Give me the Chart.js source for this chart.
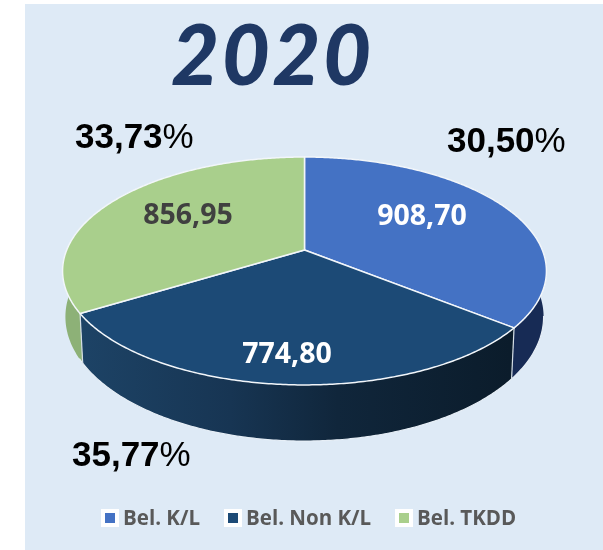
<!DOCTYPE html>
<html>
<head>
<meta charset="utf-8">
<style>
  html, body { margin: 0; padding: 0; background: #fff; }
  #panel { position: absolute; left: 25px; top: 4px; width: 578px; height: 546px; background: #DEEAF6; }
  #chart { position: absolute; left: 0; top: 0; }
</style>
<script src="https://cdn.jsdelivr.net/npm/chart.js@4"></script>
</head>
<body>
<div id="panel"></div>
<canvas id="chart" width="603" height="550"></canvas>
<script>
const titleText = '2020';
const categories = ['Bel. K/L', 'Bel. Non K/L', 'Bel. TKDD'];
const values = [908.70, 774.80, 856.95];
const valueLabels = ['908,70', '774,80', '856,95'];
const percentLabels = ['30,50', '35,77', '33,73'];
const topColors = ['#4472C4', '#1C4A76', '#A9CF8C'];
const labelColors = ['#FFFFFF', '#FFFFFF', '#404040'];

// the pie is seen in perspective, so the circle centre sits above the ellipse centre
const view = { cx: 304.5, cy: 250, a: 237.8, b: 110.1, k: 0.184 };
const floorView = { cx: 304.5, cy: 294, a: 235, b: 120, k: 0.184 };

function project(v, theta) {
  const u = Math.sin(theta), w = -Math.cos(theta), d = 1 - v.k * w;
  return [v.cx + v.a * u / d, v.cy + v.b * w / d];
}

function trace(ctx, v, from, to, first) {
  const steps = Math.max(2, Math.ceil(Math.abs(to - from) / 0.01));
  for (let i = 0; i <= steps; i++) {
    const p = project(v, from + (to - from) * i / steps);
    if (i === 0 && first) ctx.moveTo(p[0], p[1]); else ctx.lineTo(p[0], p[1]);
  }
}

function wallPaint(ctx, index) {
  if (index === 0) return '#172B55';
  if (index === 2) return '#8DB177';
  const g = ctx.createLinearGradient(80, 0, 510, 0);
  g.addColorStop(0, '#1D4366');
  g.addColorStop(0.35, '#173553');
  g.addColorStop(0.6, '#10263B');
  g.addColorStop(1, '#0B1C2B');
  return g;
}

const perspectivePie = {
  id: 'perspectivePie',
  beforeDatasetsDraw(chart) {
    const ctx = chart.ctx;
    const arcs = chart.getDatasetMeta(0).data;
    const angles = arcs.map(arc => [arc.startAngle + Math.PI / 2, arc.endAngle + Math.PI / 2]);

    ctx.save();
    ctx.lineJoin = 'round';

    // side walls
    angles.forEach((t, i) => {
      ctx.beginPath();
      trace(ctx, view, t[0], t[1], true);
      trace(ctx, floorView, t[1], t[0], false);
      ctx.closePath();
      ctx.fillStyle = wallPaint(ctx, i);
      ctx.fill();
    });

    // wall edges
    ctx.strokeStyle = '#E6EEF6';
    ctx.lineWidth = 1.2;
    ctx.beginPath();
    trace(ctx, floorView, 1.75, 4.2, true);
    ctx.stroke();
    ctx.strokeStyle = '#D5DEE6';
    angles.forEach(t => {
      if (t[0] < 1.6 || t[0] > 4.7) return;
      const a = project(view, t[0]), b = project(floorView, t[0]);
      ctx.beginPath();
      ctx.moveTo(a[0], a[1]);
      ctx.lineTo(b[0], b[1]);
      ctx.stroke();
    });

    // top face
    ctx.strokeStyle = '#F2F6FA';
    ctx.lineWidth = 1.5;
    angles.forEach((t, i) => {
      ctx.beginPath();
      ctx.moveTo(view.cx, view.cy);
      trace(ctx, view, t[0], t[1], false);
      ctx.closePath();
      ctx.fillStyle = topColors[i];
      ctx.fill();
      ctx.stroke();
    });
    ctx.restore();
    return false;
  },
  afterDraw(chart) {
    const ctx = chart.ctx;
    ctx.save();
    ctx.textBaseline = 'alphabetic';

    // title
    ctx.fillStyle = '#1F3864';
    ctx.font = 'italic 900 83px Lato';
    ctx.letterSpacing = '2.5px';
    ctx.textAlign = 'left';
    ctx.fillText(titleText, 171, 85);
    ctx.letterSpacing = '0px';

    // values on the slices
    const valuePos = [[422, 225], [287, 363], [188, 224]];
    ctx.font = 'bold 28.5px "Open Sans"';
    ctx.textAlign = 'center';
    valueLabels.forEach((s, i) => {
      ctx.fillStyle = labelColors[i];
      ctx.fillText(s, valuePos[i][0], valuePos[i][1]);
    });

    // percentages, digits bold and the sign plain
    const pctPos = [[447, 152], [72, 466], [75, 148]];
    ctx.textAlign = 'left';
    ctx.fillStyle = '#000';
    percentLabels.forEach((s, i) => {
      ctx.font = 'bold 35px "Liberation Sans"';
      ctx.fillText(s, pctPos[i][0], pctPos[i][1]);
      const w = ctx.measureText(s).width;
      ctx.font = '35px "Liberation Sans"';
      ctx.fillText('%', pctPos[i][0] + w, pctPos[i][1]);
    });

    // legend
    const legendX = [103, 226, 397];
    ctx.font = 'bold 20.5px "Open Sans"';
    categories.forEach((s, i) => {
      ctx.fillStyle = '#FFFFFF';
      ctx.fillRect(legendX[i] - 2, 509, 18, 18);
      ctx.fillStyle = topColors[i];
      ctx.fillRect(legendX[i] + 2, 513, 10, 10);
      ctx.fillStyle = '#595959';
      ctx.fillText(s, legendX[i] + 20, 525);
    });
    ctx.restore();
  }
};

new Chart(document.getElementById('chart'), {
  type: 'pie',
  data: {
    labels: categories,
    datasets: [{ data: values, backgroundColor: topColors }]
  },
  options: {
    responsive: false,
    animation: false,
    plugins: {
      legend: { display: false },
      title: { display: false },
      tooltip: { enabled: false }
    }
  },
  plugins: [perspectivePie]
});
</script>
</body>
</html>
